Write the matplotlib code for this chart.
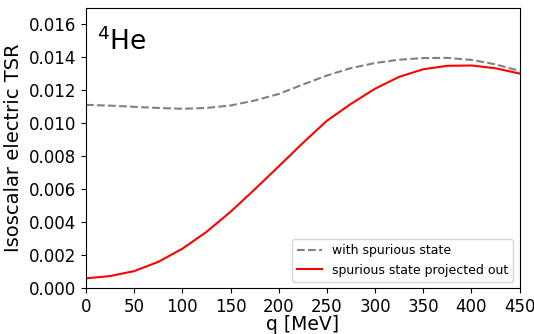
import numpy as np
import matplotlib.pyplot as plt

# momentum transfer grid (MeV)
q = [0, 25, 50, 75, 100, 125, 150, 175, 200, 225, 250, 275, 300, 325, 350, 375, 400, 425, 450]

# TSR with the spurious state still in
tsr_spurious = [0.01112, 0.01107, 0.01100, 0.01093, 0.01088, 0.01093, 0.01108, 0.01138, 0.01178,
                0.01235, 0.01290, 0.01335, 0.01366, 0.01386, 0.01396, 0.01397, 0.01385, 0.01358, 0.01318]

# TSR with the spurious state projected out
tsr_projected = [0.00058, 0.00072, 0.00102, 0.00158, 0.00238, 0.00340, 0.00462, 0.00598, 0.00738,
                 0.00880, 0.01015, 0.01118, 0.01210, 0.01282, 0.01328, 0.01349, 0.01351, 0.01334, 0.01302]

fig = plt.figure(figsize=(5.34, 3.34), dpi=100)
ax = fig.add_axes([0.161, 0.138, 0.812, 0.838])

ax.plot(q, tsr_spurious, '--', color='gray', lw=1.5, label='with spurious state')
ax.plot(q, tsr_projected, '-', color='red', lw=1.5, label='spurious state projected out')

ax.set_xlim(0, 450)
ax.set_ylim(0, 0.017)
ax.set_xticks(np.arange(0, 451, 50))
ax.set_yticks(np.arange(0, 0.0161, 0.002))
ax.set_yticklabels([f'{v:.3f}' for v in np.arange(0, 0.0161, 0.002)])
ax.tick_params(labelsize=12)

ax.set_xlabel('q [MeV]', fontsize=13.5, labelpad=-0.5)
ax.set_ylabel('Isoscalar electric TSR', fontsize=14)
ax.text(0.025, 0.93, r'$^4$He', transform=ax.transAxes, fontsize=19, va='top')

ax.legend(loc='lower right', fontsize=9)

plt.savefig('out.png', dpi=100)
